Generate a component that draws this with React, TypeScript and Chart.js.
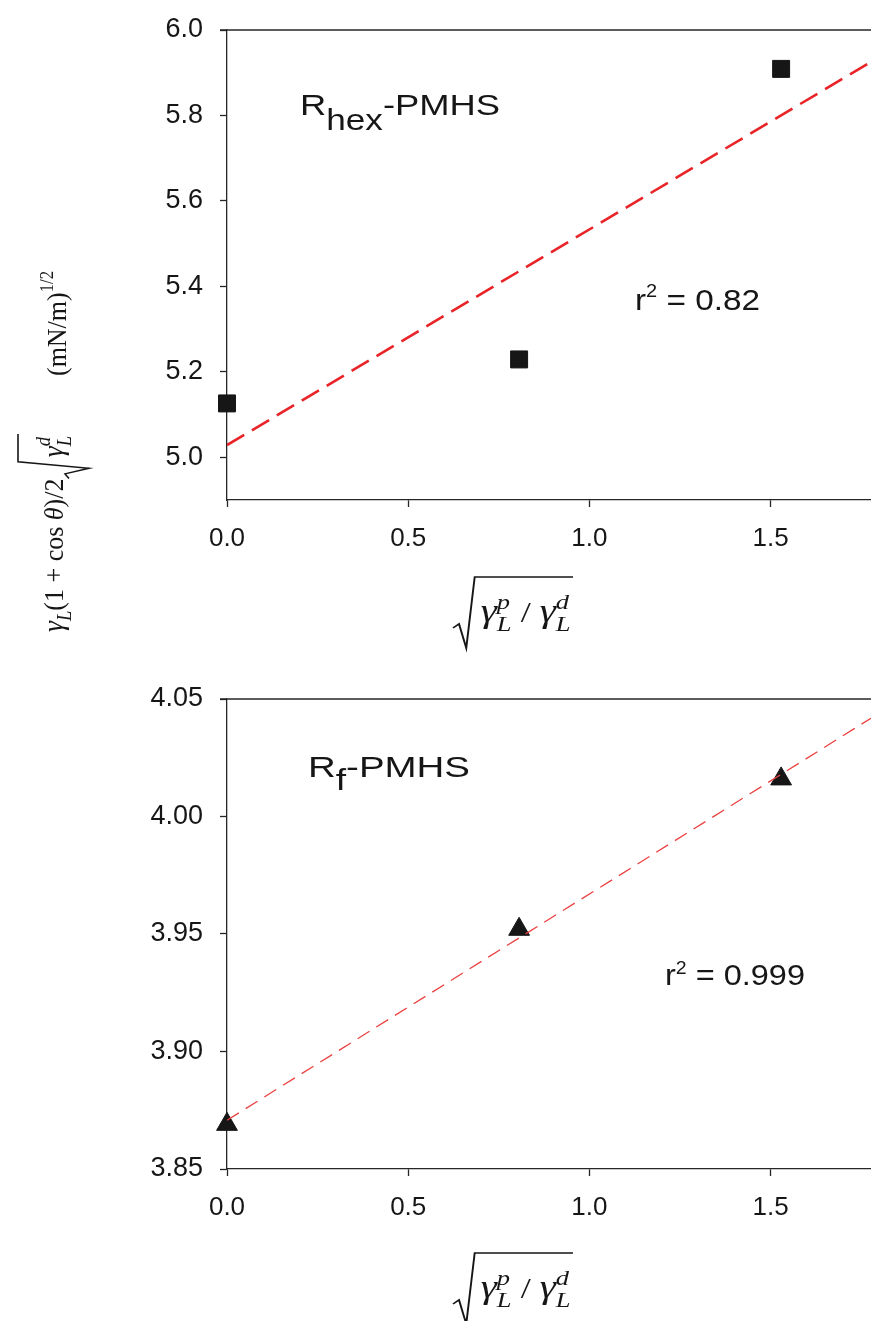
import React, { useEffect, useRef } from 'react';
import { Chart, registerables } from 'chart.js';

Chart.register(...registerables);

// ---------- data ----------
const xValues = [0, 0.806, 1.529];
const hexValues = [5.126, 5.229, 5.909];
const rfValues = [3.869, 3.952, 4.016];
const xTicks = [0.0, 0.5, 1.0, 1.5];
const xRange = [0, 1.777];
const hexTicks = [5.0, 5.2, 5.4, 5.6, 5.8, 6.0];
const hexRange = [4.9, 6.0];
const rfTicks = [3.85, 3.9, 3.95, 4.0, 4.05];
const rfRange = [3.85, 4.05];
const hexName = ['R', 'hex', '-PMHS'];
const rfName = ['R', 'f', '-PMHS'];
const hexR2 = '0.82';
const rfR2 = '0.999';

const PAGE_W = 871;
const SANS = '"Liberation Sans", Arial, sans-serif';
const SERIF = '"Liberation Serif", "DejaVu Serif", serif';
const INK = '#161616';
const AXIS = '#262626';

type Item = {
  t?: string;
  size?: number;
  italic?: boolean;
  serif?: boolean;
  dy?: number;
  over?: boolean;
  rad?: 'open' | 'close';
};

const RAD_W = 23;

function fontOf(it: Item) {
  return `${it.italic ? 'italic ' : ''}${it.size}px ${it.serif ? SERIF : SANS}`;
}

function layoutItems(ctx: CanvasRenderingContext2D, items: Item[]) {
  let u = 0;
  let prevStart = 0;
  const pos: number[] = [];
  for (const it of items) {
    if (it.rad === 'open') { pos.push(u); u += RAD_W; continue; }
    if (it.rad === 'close') { pos.push(u); u += 2; continue; }
    ctx.font = fontOf(it);
    const w = ctx.measureText(it.t || '').width;
    if (it.over) { pos.push(prevStart); u = Math.max(u, prevStart + w); }
    else { pos.push(u); prevStart = u; u += w; }
  }
  return { pos, width: u };
}

function drawMath(ctx: CanvasRenderingContext2D, items: Item[], x: number, y: number, targetW?: number) {
  ctx.save();
  ctx.textAlign = 'left';
  ctx.textBaseline = 'alphabetic';
  const { pos, width } = layoutItems(ctx, items);
  const sx = targetW ? targetW / width : 1;
  ctx.translate(x, y);
  ctx.scale(sx, 1);
  let radStart = 0;
  items.forEach((it, i) => {
    if (it.rad === 'open') { radStart = pos[i]; return; }
    if (it.rad === 'close') {
      const r = radStart;
      const e = pos[i] + 2;
      ctx.beginPath();
      ctx.moveTo(r, 6);
      ctx.lineTo(r + 5, 2);
      ctx.lineTo(r + 11, 26);
      ctx.lineTo(r + 18, -45);
      ctx.lineTo(e, -45);
      ctx.lineWidth = 1.6;
      ctx.strokeStyle = INK;
      ctx.lineJoin = 'miter';
      ctx.stroke();
      return;
    }
    ctx.font = fontOf(it);
    ctx.fillText(it.t || '', pos[i], it.dy || 0);
  });
  ctx.restore();
}

const xTitleItems: Item[] = [
  { rad: 'open' },
  { t: 'γ', size: 34, italic: true, serif: true },
  { t: 'L', size: 22, italic: true, serif: true, dy: 9 },
  { t: 'p', size: 22, italic: true, serif: true, dy: -13, over: true },
  { t: ' / ', size: 30, serif: true },
  { t: 'γ', size: 34, italic: true, serif: true },
  { t: 'L', size: 22, italic: true, serif: true, dy: 9 },
  { t: 'd', size: 22, italic: true, serif: true, dy: -13, over: true },
  { rad: 'close' },
];

const yTitleMain: Item[] = [
  { t: 'γ', size: 30, italic: true, serif: true },
  { t: 'L', size: 20, italic: true, serif: true, dy: 8 },
  { t: '(1 + cos ', size: 28, serif: true },
  { t: 'θ', size: 28, italic: true, serif: true },
  { t: ')/2', size: 28, serif: true },
  { rad: 'open' },
  { t: 'γ', size: 30, italic: true, serif: true },
  { t: 'L', size: 20, italic: true, serif: true, dy: 8 },
  { t: 'd', size: 20, italic: true, serif: true, dy: -13, over: true },
  { rad: 'close' },
];

const yTitleUnit: Item[] = [
  { t: '(mN/m)', size: 28, serif: true },
  { t: '1/2', size: 18, serif: true, dy: -13 },
];

function linearFit(xs: number[], ys: number[]) {
  const n = xs.length;
  const mx = xs.reduce((a, b) => a + b, 0) / n;
  const my = ys.reduce((a, b) => a + b, 0) / n;
  let sxy = 0;
  let sxx = 0;
  for (let i = 0; i < n; i++) {
    sxy += (xs[i] - mx) * (ys[i] - my);
    sxx += (xs[i] - mx) * (xs[i] - mx);
  }
  const slope = sxy / sxx;
  return { slope, intercept: my - slope * mx };
}

type PanelOpts = {
  id: string;
  values: number[];
  yTicks: number[];
  yRange: number[];
  digits: number;
  pointStyle: 'rect' | 'triangle';
  lineColor: string;
  lineWidth: number;
  dash: number[];
  canvasH: number;
  top: number;
  bottom: number;
  barY: number;
  name: string[];
  nameSubDy: number;
  nameSubSize: number;
  namePos: [number, number, number];
  r2: string;
  r2Pos: [number, number, number];
  r2SupDy: number;
};

function buildChart(canvas: HTMLCanvasElement, o: PanelOpts) {
  const fit = linearFit(xValues, o.values);
  const fitData = xRange.map((x) => ({ x, y: fit.intercept + fit.slope * x }));
  const points = xValues.map((x, i) => ({ x, y: o.values[i] }));

  const decor = {
    id: 'decor' + o.id,
    afterDraw(chart: any) {
      const ctx: CanvasRenderingContext2D = chart.ctx;
      const a = chart.chartArea;
      ctx.save();
      ctx.strokeStyle = AXIS;
      ctx.lineWidth = 1.3;
      ctx.beginPath();
      ctx.moveTo(a.left - 7, a.top);
      ctx.lineTo(a.right, a.top);
      ctx.stroke();
      ctx.fillStyle = INK;
      drawMath(
        ctx,
        [
          { t: o.name[0], size: 30 },
          { t: o.name[1], size: o.nameSubSize, dy: o.nameSubDy },
          { t: o.name[2], size: 30 },
        ],
        o.namePos[0],
        o.namePos[1],
        o.namePos[2]
      );
      drawMath(
        ctx,
        [
          { t: 'r', size: 30 },
          { t: '2', size: 18, dy: o.r2SupDy },
          { t: ' = ' + o.r2, size: 30 },
        ],
        o.r2Pos[0],
        o.r2Pos[1],
        o.r2Pos[2]
      );
      drawMath(ctx, xTitleItems, 453, o.barY + 45, 120);
      ctx.restore();
    },
  };

  const chart = new Chart(canvas, {
    type: 'scatter',
    data: {
      datasets: [
        {
          data: fitData,
          showLine: true,
          borderColor: o.lineColor,
          borderWidth: o.lineWidth,
          borderDash: o.dash,
          pointRadius: 0,
          fill: false,
          tension: 0,
        },
        {
          data: points,
          pointStyle: o.pointStyle,
          pointRadius: 12,
          pointBackgroundColor: INK,
          pointBorderColor: INK,
          pointBorderWidth: 1,
          showLine: false,
          clip: false,
        },
      ],
    } as any,
    options: {
      responsive: false,
      maintainAspectRatio: false,
      animation: false,
      devicePixelRatio: 1,
      events: [],
      layout: { padding: { top: o.top, left: 0, right: 0, bottom: 0 } },
      plugins: {
        legend: { display: false },
        tooltip: { enabled: false },
        title: { display: false },
      },
      scales: {
        x: {
          type: 'linear',
          position: 'bottom',
          min: xRange[0],
          max: xRange[1],
          afterBuildTicks: (s: any) => {
            s.ticks = xTicks.map((v) => ({ value: v }));
          },
          afterFit: (s: any) => {
            s.height = o.canvasH - o.bottom;
            s.paddingLeft = 0;
            s.paddingRight = 0;
          },
          ticks: {
            callback: (v: any) => Number(v).toFixed(1),
            font: { family: SANS, size: 26 },
            color: INK,
            padding: 16,
            maxRotation: 0,
            autoSkip: false,
          },
          grid: {
            drawOnChartArea: false,
            drawTicks: true,
            tickLength: 7,
            tickColor: AXIS,
            tickWidth: 1.3,
          },
          border: { display: true, color: AXIS, width: 1.3 },
        },
        y: {
          type: 'linear',
          position: 'left',
          min: o.yRange[0],
          max: o.yRange[1],
          afterBuildTicks: (s: any) => {
            s.ticks = o.yTicks.map((v) => ({ value: v }));
          },
          afterFit: (s: any) => {
            s.width = 227;
            s.paddingTop = 0;
            s.paddingBottom = 0;
          },
          ticks: {
            callback: (v: any) => Number(v).toFixed(o.digits),
            font: { family: SANS, size: 27 },
            color: INK,
            padding: 17,
            autoSkip: false,
          },
          grid: {
            drawOnChartArea: false,
            drawTicks: true,
            tickLength: 7,
            tickColor: AXIS,
            tickWidth: 1.3,
          },
          border: { display: true, color: AXIS, width: 1.3 },
        },
      },
    } as any,
    plugins: [decor],
  });

  // make the plot area run exactly to the page's right edge (the reference is cropped there)
  for (let k = 0; k < 3; k++) {
    const diff = PAGE_W - chart.chartArea.right;
    if (Math.abs(diff) < 0.5) break;
    chart.resize(Math.round(chart.width + diff), o.canvasH);
  }
  return chart;
}

function drawYTitle(canvas: HTMLCanvasElement) {
  const ctx = canvas.getContext('2d');
  if (!ctx) return;
  ctx.clearRect(0, 0, canvas.width, canvas.height);
  ctx.fillStyle = INK;
  ctx.save();
  ctx.translate(63, 632);
  ctx.rotate(-Math.PI / 2);
  drawMath(ctx, yTitleMain, 0, 0, 198);
  ctx.restore();
  ctx.save();
  ctx.translate(66, 376);
  ctx.rotate(-Math.PI / 2);
  drawMath(ctx, yTitleUnit, 0, 0, 105);
  ctx.restore();
}

export default function App() {
  const topRef = useRef<HTMLCanvasElement>(null);
  const botRef = useRef<HTMLCanvasElement>(null);
  const titleRef = useRef<HTMLCanvasElement>(null);

  useEffect(() => {
    const c1 = buildChart(topRef.current as HTMLCanvasElement, {
      id: 'hex',
      values: hexValues,
      yTicks: hexTicks,
      yRange: hexRange,
      digits: 1,
      pointStyle: 'rect',
      lineColor: 'rgb(232,36,40)',
      lineWidth: 2.6,
      dash: [20, 9],
      canvasH: 660,
      top: 30,
      bottom: 500,
      barY: 577,
      name: hexName,
      nameSubDy: 15,
      nameSubSize: 29,
      namePos: [300, 115, 200],
      r2: hexR2,
      r2Pos: [635, 310, 125],
      r2SupDy: -13,
    });
    const c2 = buildChart(botRef.current as HTMLCanvasElement, {
      id: 'rf',
      values: rfValues,
      yTicks: rfTicks,
      yRange: rfRange,
      digits: 2,
      pointStyle: 'triangle',
      lineColor: 'rgb(236,64,64)',
      lineWidth: 1.3,
      dash: [14, 8],
      canvasH: 661,
      top: 39,
      bottom: 509,
      barY: 593,
      name: rfName,
      nameSubDy: 13,
      nameSubSize: 29,
      namePos: [308, 117, 162],
      r2: rfR2,
      r2Pos: [665, 325, 140],
      r2SupDy: -11,
    });
    if (titleRef.current) drawYTitle(titleRef.current);
    return () => {
      c1.destroy();
      c2.destroy();
    };
  }, []);

  return (
    <div
      style={{
        position: 'absolute',
        left: 0,
        top: 0,
        width: PAGE_W,
        height: 1321,
        overflow: 'hidden',
        background: '#ffffff',
      }}
    >
      <canvas ref={topRef} width={PAGE_W} height={660} style={{ position: 'absolute', left: 0, top: 0 }} />
      <canvas ref={botRef} width={PAGE_W} height={661} style={{ position: 'absolute', left: 0, top: 660 }} />
      <canvas
        ref={titleRef}
        width={120}
        height={1321}
        style={{ position: 'absolute', left: 0, top: 0, pointerEvents: 'none' }}
      />
    </div>
  );
}
